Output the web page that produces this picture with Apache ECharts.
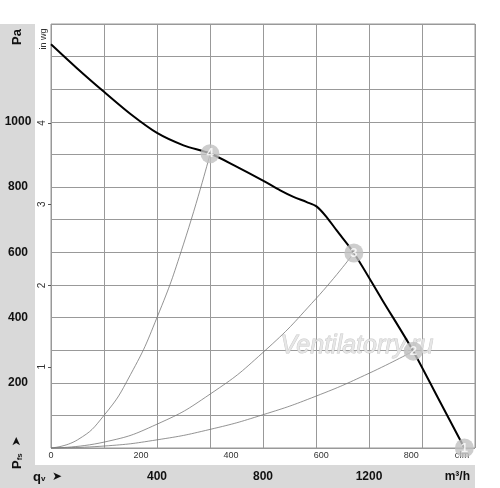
<!DOCTYPE html>
<html><head><meta charset="utf-8">
<script src="https://cdn.jsdelivr.net/npm/echarts@6/dist/echarts.min.js"></script>
<style>html,body{margin:0;padding:0;background:#fff}#c{width:500px;height:488px}</style>
</head><body><div id="c"></div>
<script>
// Fan characteristic curve (q in m³/h, pressure in Pa)
const curveFlow = [0, 100, 200, 300, 400, 500, 600, 700, 800, 865, 915, 965, 1003, 1040, 1078, 1143, 1250, 1367, 1460, 1560];
const curvePa   = [1238, 1163, 1092, 1024, 966, 928, 903, 863, 820, 790, 770, 754, 740, 708, 667, 598, 454, 297, 154, 0];

// System (resistance) curves through operating points 4, 3, 2
const sys4Flow = [0, 100, 200, 300, 400, 500, 600];
const sys4Pa   = [0, 25, 100, 225, 400, 625, 900];
const sys3Flow = [0, 200, 400, 600, 800, 1000, 1143];
const sys3Pa   = [0, 18, 73, 165, 293, 458, 598];
const sys2Flow = [0, 200, 400, 600, 800, 1000, 1200, 1367];
const sys2Pa   = [0, 6, 25, 57, 102, 159, 229, 297];

// Operating points
const pointLabels = ['1', '2', '3', '4'];
const pointFlow   = [1560, 1367, 1143, 600];
const pointPa     = [0, 297, 598, 902];

// Tick labels
const paLabels   = [200, 400, 600, 800, 1000];
const m3hLabels  = [400, 800, 1200];
const cfmLabels  = [0, 200, 400, 600, 800];
const inwgLabels = [1, 2, 3, 4];

const FONT = '"Liberation Sans", Arial, sans-serif';
const zip = (a, b) => a.map((v, i) => [v, b[i]]);

const chart = echarts.init(document.getElementById('c'), null, {renderer: 'canvas'});
chart.setOption({
  animation: false,
  backgroundColor: '#fff',
  grid: {left: 51, top: 24, right: 25, bottom: 40, show: true, borderColor: '#999', borderWidth: 1, backgroundColor: '#fff', z: 0},
  xAxis: [
    {type: 'value', min: 0, max: 1600, interval: 200, position: 'bottom',
     axisLine: {show: false}, axisTick: {show: false},
     splitLine: {show: true, lineStyle: {color: '#999', width: 1}},
     axisLabel: {margin: 23, color: '#111', fontWeight: 'bold', fontSize: 12, fontFamily: FONT,
       formatter: v => m3hLabels.includes(v) ? String(v) : ''}},
    {type: 'value', min: 0, max: 1600 / 1.699, interval: 200, position: 'bottom',
     axisLine: {show: false}, axisTick: {show: false}, splitLine: {show: false},
     axisLabel: {margin: 3, color: '#333', fontSize: 9, fontFamily: FONT, showMaxLabel: false,
       formatter: v => cfmLabels.includes(v) ? String(v) : ''}}
  ],
  yAxis: [
    {type: 'value', min: 0, max: 1300, interval: 100, position: 'left',
     axisLine: {show: false}, axisTick: {show: false},
     splitLine: {show: true, lineStyle: {color: '#999', width: 1}},
     axisLabel: {margin: 33, align: 'center', color: '#111', fontWeight: 'bold', fontSize: 12, fontFamily: FONT,
       formatter: v => paLabels.includes(v) ? String(v) : ''}},
    {type: 'value', min: 0, max: 1300 / 249.089, interval: 1, position: 'left',
     axisLine: {show: false},
     axisTick: {show: true, length: 3, customValues: inwgLabels, lineStyle: {color: '#555'}},
     splitLine: {show: false},
     axisLabel: {margin: 4, rotate: 90, color: '#333', fontSize: 10, fontFamily: FONT, customValues: inwgLabels,
       formatter: v => inwgLabels.includes(v) ? String(v) : ''}}
  ],
  graphic: [
    {type: 'rect', shape: {x: 0, y: 24, width: 35, height: 464}, style: {fill: '#d9d9d9'}, z: -10, silent: true},
    {type: 'rect', shape: {x: 0, y: 465, width: 475, height: 23}, style: {fill: '#d9d9d9'}, z: -10, silent: true},
    {type: 'text', x: 17, y: 37, rotation: Math.PI / 2, z: 5,
     style: {text: 'Pa', font: 'bold 13px ' + FONT, fill: '#111', align: 'center', verticalAlign: 'middle'}},
    {type: 'text', x: 43.5, y: 39, rotation: Math.PI / 2, z: 5,
     style: {text: 'in wg', font: '9px ' + FONT, fill: '#333', align: 'center', verticalAlign: 'middle'}},
    {type: 'text', x: 17, y: 469, rotation: Math.PI / 2, z: 5,
     style: {text: '{p|P}{s|fs}  {a|➤}', align: 'left', verticalAlign: 'middle',
       rich: {p: {font: 'bold 13px ' + FONT, fill: '#111'}, s: {font: 'bold 8px ' + FONT, fill: '#111', padding: [5, 0, 0, 0]}, a: {font: '12px "DejaVu Sans"', fill: '#111'}}}},
    {type: 'text', x: 33, y: 477, z: 5,
     style: {text: '{p|q}{s|v}  {a|➤}', align: 'left', verticalAlign: 'middle',
       rich: {p: {font: 'bold 13px ' + FONT, fill: '#111'}, s: {font: 'bold 8px ' + FONT, fill: '#111', padding: [4, 0, 0, 0]}, a: {font: '12px "DejaVu Sans"', fill: '#111'}}}},
    {type: 'text', x: 470, y: 477, z: 5,
     style: {text: 'm³/h', font: 'bold 12px ' + FONT, fill: '#111', align: 'right', verticalAlign: 'middle'}},
    {type: 'text', x: 462, y: 456, z: 1,
     style: {text: 'cfm', font: '9px ' + FONT, fill: '#333', align: 'center', verticalAlign: 'middle'}},
    {type: 'text', x: 357, y: 346, z: 1,
     style: {text: 'Ventilatorry.ru', font: 'italic 25px ' + FONT, fill: 'rgba(228,228,228,0.9)', stroke: 'rgba(175,175,175,0.7)', lineWidth: 0.8,
       align: 'center', verticalAlign: 'middle'}}
  ],
  series: [
    {type: 'line', data: zip(sys4Flow, sys4Pa), smooth: true, symbol: 'none', lineStyle: {color: '#777', width: 0.8}, z: 3},
    {type: 'line', data: zip(sys3Flow, sys3Pa), smooth: true, symbol: 'none', lineStyle: {color: '#777', width: 0.8}, z: 3},
    {type: 'line', data: zip(sys2Flow, sys2Pa), smooth: true, symbol: 'none', lineStyle: {color: '#777', width: 0.8}, z: 3},
    {type: 'line', data: zip(curveFlow, curvePa), smooth: 0.3, symbol: 'none', lineStyle: {color: '#000', width: 2}, z: 4},
    {type: 'scatter', data: pointFlow.map((q, i) => ({value: [q, pointPa[i]], name: pointLabels[i]})),
     symbolSize: 19, itemStyle: {color: '#c0c0c0'}, z: 6,
     label: {show: true, position: 'inside', formatter: p => p.name, color: '#ffffff', textBorderWidth: 0, fontWeight: 'bold', fontSize: 13, fontFamily: FONT}}
  ]
});
</script></body></html>
